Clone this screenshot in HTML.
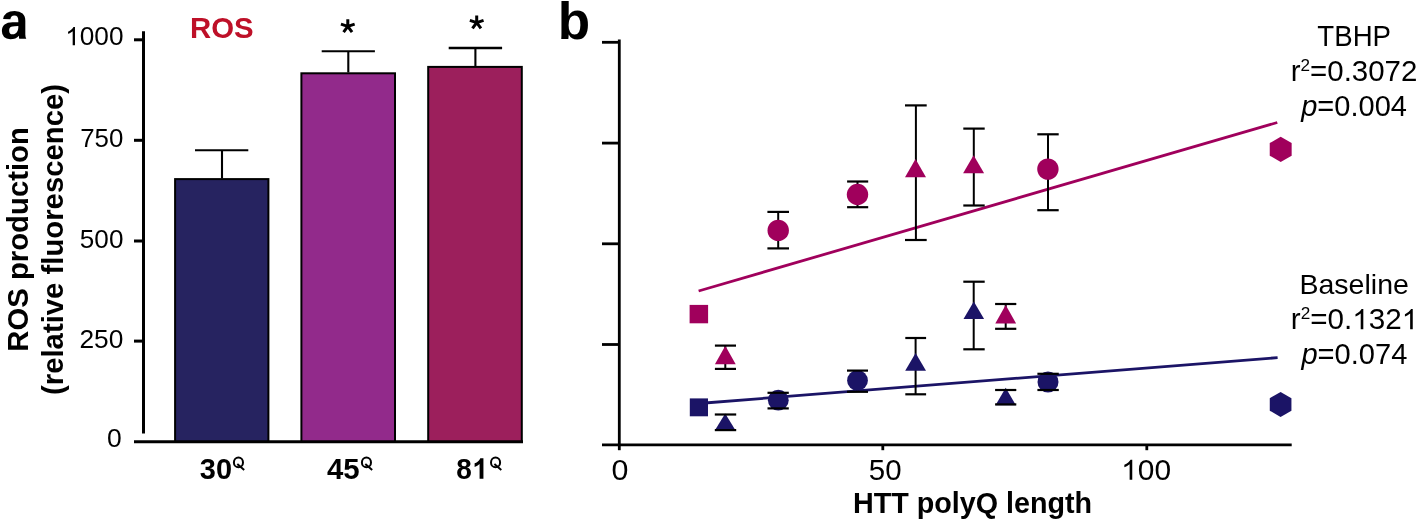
<!DOCTYPE html>
<html>
<head>
<meta charset="utf-8">
<style>
html,body{margin:0;padding:0;background:#fff;}
body{width:1418px;height:521px;overflow:hidden;}
svg{display:block;}
text{font-family:"Liberation Sans",sans-serif;}
</style>
</head>
<body>
<svg style="will-change:transform" width="1418" height="521" viewBox="0 0 1418 521">
<rect x="0" y="0" width="1418" height="521" fill="#fff"/>
<!-- Panel a -->
<g transform="matrix(0.5104,0,0,0.5182,0.37,38.78)"><path transform="matrix(0.048828,0,0,-0.048828,0,0)" d="M393 -20Q236 -20 148.0 65.5Q60 151 60 306Q60 474 169.5 562.0Q279 650 487 652L720 656V711Q720 817 683.0 868.5Q646 920 562 920Q484 920 447.5 884.5Q411 849 402 767L109 781Q136 939 253.5 1020.5Q371 1102 574 1102Q779 1102 890.0 1001.0Q1001 900 1001 714V170Q1001 70 1040 0H755Q745 50 745 120Q631 -20 393 -20ZM720 501 576 499Q478 495 437.0 477.5Q396 460 374.5 424.0Q353 388 353 328Q353 251 388.5 213.5Q424 176 483 176Q549 176 603.5 212.0Q658 248 689.0 311.5Q720 375 720 446Z"/></g>
<text transform="matrix(0.2937,0,0,0.3042,189.94,38.10)" font-size="100" font-weight="bold" fill="#be1028">ROS</text>
<g font-weight="bold" font-size="29.3" text-anchor="middle">
<text transform="translate(27.8 239.4) rotate(-90)">ROS production</text>
<text transform="translate(62.5 239.5) rotate(-90)">(relative fluorescence)</text>
</g>
<g transform="matrix(0.2623,0,0,0.2648,65.21,45.34)"><text font-size="100"><tspan x="55.609">000</tspan></text><path transform="matrix(0.048828,0,0,-0.048828,0,0)" d="M763,0L583,0L583,1098Q518,1038 412,979Q306,920 222,890L222,1057Q373,1125 486,1221Q599,1318 646,1409L763,1409Z"/></g>
<text transform="matrix(0.2589,0,0,0.2648,80.21,146.64)" font-size="100">750</text>
<text transform="matrix(0.2610,0,0,0.2634,79.86,248.04)" font-size="100">500</text>
<text transform="matrix(0.2633,0,0,0.2648,79.48,348.04)" font-size="100">250</text>
<text transform="matrix(0.2646,0,0,0.2592,106.94,447.34)" font-size="100">0</text>
<g stroke="#000" stroke-width="2">
<rect x="175.1" y="179.1" width="93.3" height="262.9" fill="#262360"/>
<rect x="301.4" y="73.3" width="93.6" height="368.7" fill="#922a8b"/>
<rect x="428.2" y="66.9" width="93.6" height="375.1" fill="#9c1f5c"/>
</g>
<g stroke="#000" stroke-width="3" fill="none">
<line x1="143.5" y1="31.2" x2="143.5" y2="433.4"/>
<line x1="134" y1="39.8" x2="145" y2="39.8"/>
<line x1="134" y1="140.3" x2="145" y2="140.3"/>
<line x1="134" y1="241" x2="145" y2="241"/>
<line x1="134" y1="341.1" x2="145" y2="341.1"/>
<line x1="134" y1="441.7" x2="523" y2="441.7"/>
</g>
<g stroke="#000" stroke-width="2.1" fill="none">
<line x1="222" y1="178.5" x2="222" y2="150.3"/>
<line x1="195" y1="150.3" x2="248.3" y2="150.3"/>
<line x1="348.3" y1="72.5" x2="348.3" y2="51.2"/>
<line x1="321.7" y1="51.2" x2="374.9" y2="51.2"/>
<line x1="475.4" y1="66" x2="475.4" y2="48"/>
<line x1="448.7" y1="48" x2="502.1" y2="48" stroke-width="2.6"/>
</g>
<path d="M347.80,26.40L347.80,19.20M347.80,26.40L340.95,24.18M347.80,26.40L354.65,24.18M347.80,26.40L352.03,32.22M347.80,26.40L343.57,32.22" stroke="#000" stroke-width="3.0" fill="none"/>
<path d="M476.70,22.60L476.70,15.40M476.70,22.60L469.85,20.38M476.70,22.60L483.55,20.38M476.70,22.60L480.93,28.42M476.70,22.60L472.47,28.42" stroke="#000" stroke-width="3.0" fill="none"/>
<text transform="matrix(0.2895,0,0,0.2986,199.82,478.70)" font-size="100" font-weight="bold">30</text>
<ellipse cx="238.45" cy="462.45" rx="4.55" ry="4.85" fill="none" stroke="#000" stroke-width="2.0"/><line x1="237.30" y1="464.10" x2="244.20" y2="469.90" stroke="#000" stroke-width="2.0"/>
<text transform="matrix(0.2943,0,0,0.2986,327.01,478.70)" font-size="100" font-weight="bold">45</text>
<ellipse cx="366.45" cy="462.45" rx="4.55" ry="4.85" fill="none" stroke="#000" stroke-width="2.0"/><line x1="365.30" y1="464.10" x2="372.20" y2="469.90" stroke="#000" stroke-width="2.0"/>
<g transform="matrix(0.2800,0,0,0.2986,456.36,478.70)"><text font-size="100" font-weight="bold">8</text><path transform="matrix(0.048828,0,0,-0.048828,55.609,0)" d="M841,0L560,0L560,1013Q406,875 197,809L197,1053Q307,1087 436,1183Q565,1279 613,1409L841,1409Z"/></g>
<ellipse cx="495.55" cy="462.45" rx="4.55" ry="4.85" fill="none" stroke="#000" stroke-width="2.0"/><line x1="494.40" y1="464.10" x2="501.30" y2="469.90" stroke="#000" stroke-width="2.0"/>
<!-- Panel b -->
<text transform="matrix(0.5300,0,0,0.5096,557.79,38.90)" font-size="100" font-weight="bold">b</text>
<g stroke-width="2.8" stroke-linecap="butt">
<line x1="698.6" y1="291" x2="1277.3" y2="122.5" stroke="#a0005c"/>
<line x1="698.4" y1="403.5" x2="1277.6" y2="357.65" stroke="#1b1466"/>
</g>
<g stroke="#000" stroke-width="2.8" fill="none">
<line x1="619.3" y1="39.6" x2="619.3" y2="446"/>
<line x1="602" y1="42.3" x2="620" y2="42.3"/>
<line x1="602" y1="143.1" x2="620" y2="143.1"/>
<line x1="602" y1="243.8" x2="620" y2="243.8"/>
<line x1="602" y1="344.5" x2="620" y2="344.5"/>
<line x1="602" y1="444.8" x2="1291.7" y2="444.8"/>
<line x1="619.3" y1="444" x2="619.3" y2="450.2"/>
<line x1="882.8" y1="444" x2="882.8" y2="450.2"/>
<line x1="1146.8" y1="444" x2="1146.8" y2="450.2"/>
</g>
<text transform="matrix(0.3042,0,0,0.2958,611.48,479.80)" font-size="100">0</text>
<text transform="matrix(0.2942,0,0,0.2944,868.82,479.81)" font-size="100">50</text>
<g transform="matrix(0.2993,0,0,0.2915,1121.11,479.81)"><text font-size="100"><tspan x="55.609">00</tspan></text><path transform="matrix(0.048828,0,0,-0.048828,0,0)" d="M763,0L583,0L583,1098Q518,1038 412,979Q306,920 222,890L222,1057Q373,1125 486,1221Q599,1318 646,1409L763,1409Z"/></g>
<text transform="matrix(0.2871,0,0,0.2872,852.99,512.77)" font-size="100" font-weight="bold">HTT polyQ length</text>
<g stroke="#000" stroke-width="2" fill="none">
<line x1="725.3" y1="345.6" x2="725.3" y2="368.9"/>
<line x1="778.2" y1="211.9" x2="778.2" y2="248.4"/>
<line x1="857.5" y1="181.5" x2="857.5" y2="207.2"/>
<line x1="915.9" y1="105.4" x2="915.9" y2="240.0"/>
<line x1="973.8" y1="128.6" x2="973.8" y2="205.5"/>
<line x1="1005.7" y1="304.0" x2="1005.7" y2="328.8"/>
<line x1="1048.0" y1="134.3" x2="1048.0" y2="210.2"/>
<line x1="725.2" y1="414.5" x2="725.2" y2="430.1"/>
<line x1="778.3" y1="392.8" x2="778.3" y2="408.4"/>
<line x1="857.5" y1="370.6" x2="857.5" y2="391.8"/>
<line x1="915.6" y1="338.0" x2="915.6" y2="394.3"/>
<line x1="973.7" y1="281.7" x2="973.7" y2="349.3"/>
<line x1="1005.7" y1="390.0" x2="1005.7" y2="404.4"/>
<line x1="1048.0" y1="373.8" x2="1048.0" y2="390.0"/>
</g>
<rect x="689.6" y="304.9" width="18.50" height="18.40" fill="#a0005c"/>
<polygon points="725.3,345.8 735.70,364.3 714.90,364.3" fill="#a0005c"/>
<circle cx="778.2" cy="230.4" r="10.7" fill="#a0005c"/>
<circle cx="857.5" cy="194.5" r="10.7" fill="#a0005c"/>
<polygon points="915.5,159.1 926.00,177.3 905.00,177.3" fill="#a0005c"/>
<polygon points="973.6,155.2 984.10,173.3 963.10,173.3" fill="#a0005c"/>
<polygon points="1005.7,305.1 1016.10,323.6 995.30,323.6" fill="#a0005c"/>
<circle cx="1047.9" cy="169.1" r="10.7" fill="#a0005c"/>
<polygon points="1280.70,136.75 1269.74,143.08 1269.74,155.72 1280.70,162.05 1291.66,155.73 1291.66,143.08" fill="#a0005c"/>
<rect x="689.8" y="398.4" width="18.20" height="17.90" fill="#1b1466"/>
<polygon points="725.2,413.4 735.00,429.5 715.40,429.5" fill="#1b1466"/>
<circle cx="778.3" cy="400.2" r="10.4" fill="#1b1466"/>
<circle cx="857.5" cy="380.5" r="10.4" fill="#1b1466"/>
<polygon points="915.6,353.0 926.00,370.7 905.20,370.7" fill="#1b1466"/>
<polygon points="973.8,301.6 984.10,319.1 963.50,319.1" fill="#1b1466"/>
<polygon points="1005.7,387.7 1015.90,405.2 995.50,405.2" fill="#1b1466"/>
<circle cx="1048.0" cy="382.0" r="10.5" fill="#1b1466"/>
<polygon points="1280.60,391.90 1269.77,398.15 1269.77,410.65 1280.60,416.90 1291.43,410.65 1291.43,398.15" fill="#1b1466"/>
<g stroke="#000" stroke-width="2.2" fill="none">
<line x1="714.9" y1="345.6" x2="736.0" y2="345.6"/><line x1="714.9" y1="368.9" x2="736.0" y2="368.9"/>
<line x1="767.4" y1="211.9" x2="789.0" y2="211.9"/><line x1="767.4" y1="248.4" x2="789.0" y2="248.4"/>
<line x1="847.1" y1="181.5" x2="868.2" y2="181.5"/><line x1="847.1" y1="207.2" x2="868.2" y2="207.2"/>
<line x1="905.0" y1="105.4" x2="926.7" y2="105.4"/><line x1="905.0" y1="240.0" x2="926.7" y2="240.0"/>
<line x1="963.3" y1="128.6" x2="984.7" y2="128.6"/><line x1="963.3" y1="205.5" x2="984.7" y2="205.5"/>
<line x1="995.1" y1="304.0" x2="1016.3" y2="304.0"/><line x1="995.1" y1="328.8" x2="1016.3" y2="328.8"/>
<line x1="1037.3" y1="134.3" x2="1058.7" y2="134.3"/><line x1="1037.3" y1="210.2" x2="1058.7" y2="210.2"/>
<line x1="714.8" y1="414.5" x2="736.2" y2="414.5"/><line x1="714.8" y1="430.1" x2="736.2" y2="430.1"/>
<line x1="767.5" y1="392.8" x2="788.8" y2="392.8"/><line x1="767.5" y1="408.4" x2="788.8" y2="408.4"/>
<line x1="847.0" y1="370.6" x2="868.0" y2="370.6"/><line x1="847.0" y1="391.8" x2="868.0" y2="391.8"/>
<line x1="905.3" y1="338.0" x2="926.1" y2="338.0"/><line x1="905.3" y1="394.3" x2="926.1" y2="394.3"/>
<line x1="963.3" y1="281.7" x2="984.7" y2="281.7"/><line x1="963.3" y1="349.3" x2="984.7" y2="349.3"/>
<line x1="995.1" y1="390.0" x2="1016.3" y2="390.0"/><line x1="995.1" y1="404.4" x2="1016.3" y2="404.4"/>
<line x1="1037.4" y1="373.8" x2="1058.8" y2="373.8"/><line x1="1037.4" y1="390.0" x2="1058.8" y2="390.0"/>
</g>
<text transform="matrix(0.2764,0,0,0.2928,1317.35,45.80)" font-size="100">TBHP</text>
<text transform="matrix(0.2947,0,0,0.2922,1290.74,81.31)" font-size="100">r<tspan font-size="58" dy="-36">2</tspan><tspan dy="36">=0.3072</tspan></text>
<text transform="matrix(0.2904,0,0,0.2879,1301.18,115.95)" font-size="100"><tspan font-style="italic">p</tspan>=0.004</text>
<text transform="matrix(0.2854,0,0,0.2797,1299.42,293.72)" font-size="100">Baseline</text>
<g transform="matrix(0.2963,0,0,0.2922,1290.83,329.21)"><text font-size="100">r<tspan font-size="58" dy="-36">2</tspan><tspan dy="36">=0.</tspan><tspan x="262.984">32</tspan></text><path transform="matrix(0.048828,0,0,-0.048828,207.375,0)" d="M763,0L583,0L583,1098Q518,1038 412,979Q306,920 222,890L222,1057Q373,1125 486,1221Q599,1318 646,1409L763,1409Z"/><path transform="matrix(0.048828,0,0,-0.048828,374.219,0)" d="M763,0L583,0L583,1098Q518,1038 412,979Q306,920 222,890L222,1057Q373,1125 486,1221Q599,1318 646,1409L763,1409Z"/></g>
<text transform="matrix(0.2909,0,0,0.2901,1301.38,363.71)" font-size="100"><tspan font-style="italic">p</tspan>=0.074</text>
</svg>
</body>
</html>
